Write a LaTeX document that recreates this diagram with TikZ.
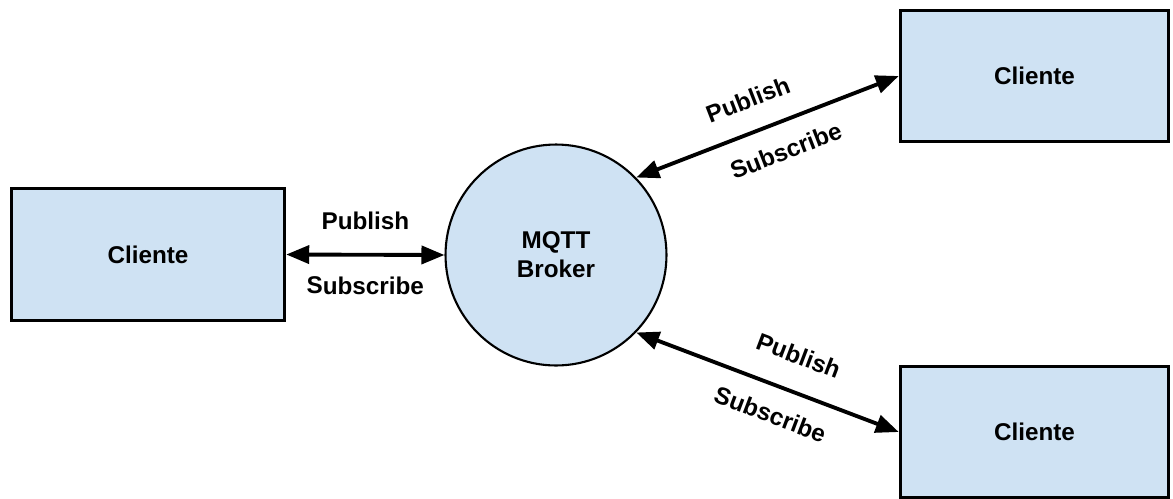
\documentclass[tikz,border=0pt]{standalone}
\usepackage{fontspec}
\setmainfont{Liberation Sans}
\usetikzlibrary{arrows.meta}
\definecolor{azul}{HTML}{CFE2F3}

\begin{document}
\begin{tikzpicture}[x=0.02cm, y=-0.02cm,
    texto/.style={font=\bfseries\fontsize{13.8}{16.5}\selectfont},
    cliente/.style={texto, draw, line width=2pt, fill=azul, minimum width=5.36cm, minimum height=2.62cm},
    seta/.style={line width=2.2pt, {Triangle[length=0.46cm,width=0.36cm]}-{Triangle[length=0.46cm,width=0.36cm]}},
    rotulo/.style={texto, sloped}]
    \useasboundingbox (0, 0) rectangle (1173, 498);

    \node [cliente, minimum width=5.46cm, minimum height=2.64cm] (esq) at (148, 254.5) {Cliente};
    \node [cliente] (cima) at (1034.5, 76) {Cliente};
    \node [cliente] (baixo) at (1034.5, 432) {Cliente};
    \node [texto, draw, circle, line width=1.2pt, fill=azul, minimum size=4.42cm, align=center] (broker) at (556, 255) {MQTT\\Broker};

    \draw [seta] (esq.east) -- (broker.west)
        node [rotulo, midway, above=10pt] {Publish}
        node [rotulo, midway, below=8pt] {Subscribe};
    \draw [seta] (broker.44) -- (cima.west)
        node [rotulo, pos=0.47, above=9pt] {Publish}
        node [rotulo, pos=0.53, below=7pt] {Subscribe};
    \draw [seta] (broker.-44) -- (baixo.west)
        node [rotulo, pos=0.57, above=11pt] {Publish}
        node [rotulo, pos=0.55, below=7pt] {Subscribe};
\end{tikzpicture}
\end{document}
